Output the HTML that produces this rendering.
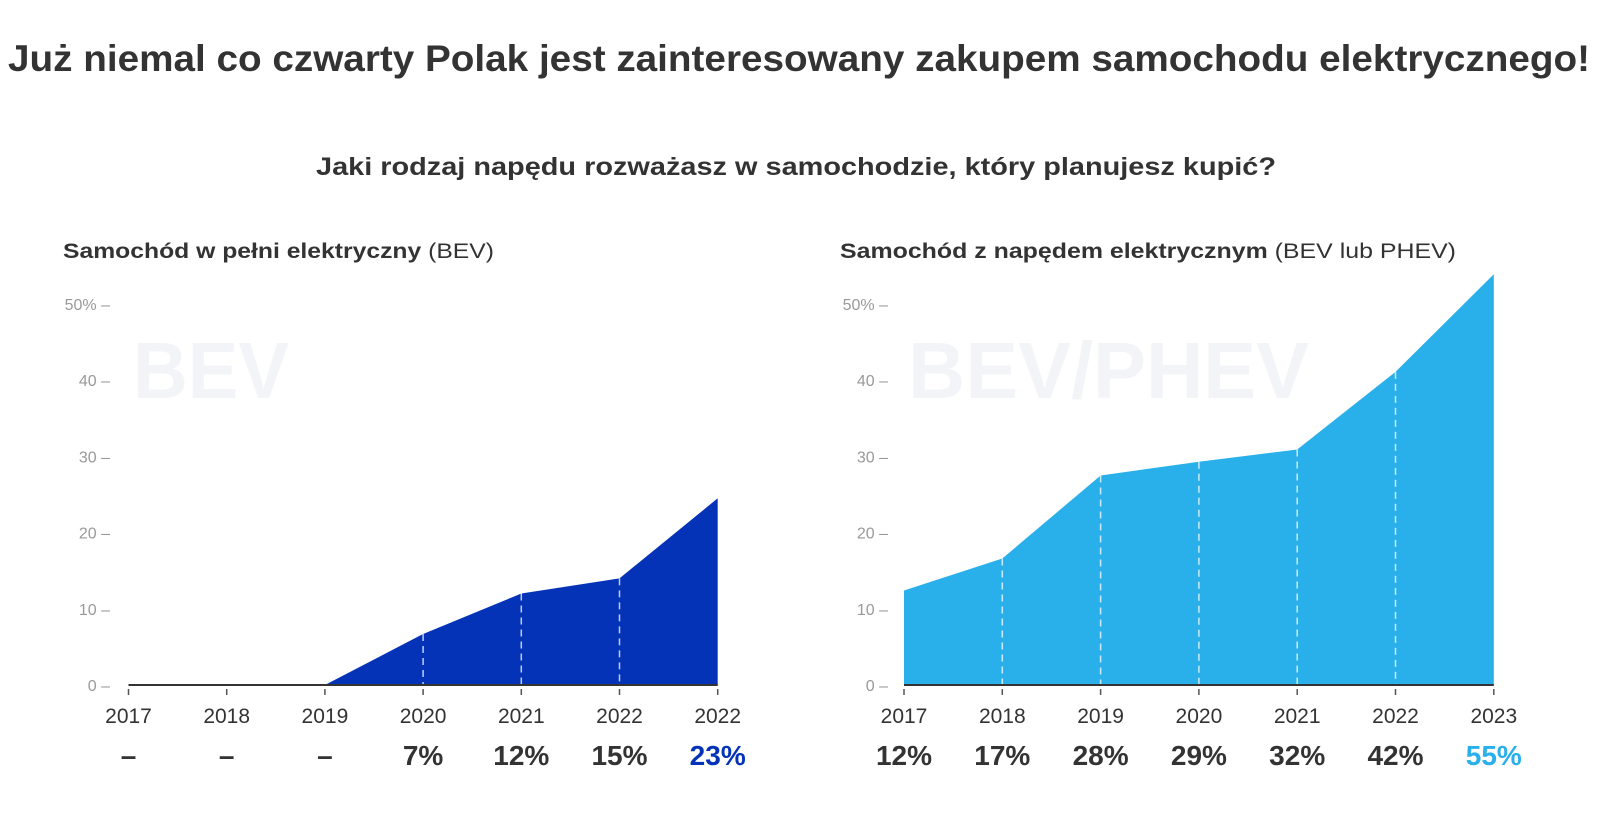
<!DOCTYPE html>
<html><head><meta charset="utf-8"><style>
html,body{margin:0;padding:0;background:#fff;}
svg{display:block;font-family:"Liberation Sans",sans-serif;}
</style></head><body>
<svg id="c" width="1600" height="821" viewBox="0 0 1600 821">
<text x="8" y="71" font-size="37" font-weight="bold" fill="#333" textLength="1582" lengthAdjust="spacingAndGlyphs">Już niemal co czwarty Polak jest zainteresowany zakupem samochodu elektrycznego!</text>
<text x="316" y="175" font-size="25" font-weight="bold" fill="#333" textLength="960" lengthAdjust="spacingAndGlyphs">Jaki rodzaj napędu rozważasz w samochodzie, który planujesz kupić?</text>
<text x="63" y="258" font-size="21" fill="#333" textLength="431" lengthAdjust="spacingAndGlyphs"><tspan font-weight="bold">Samochód w pełni elektryczny</tspan> (BEV)</text>
<text x="840" y="258" font-size="21" fill="#333" textLength="616" lengthAdjust="spacingAndGlyphs"><tspan font-weight="bold">Samochód z napędem elektrycznym</tspan> (BEV lub PHEV)</text>
<text x="133" y="398" font-size="80" font-weight="bold" fill="#f3f4f8" textLength="156" lengthAdjust="spacingAndGlyphs">BEV</text>
<text x="908" y="398" font-size="80" font-weight="bold" fill="#f3f4f8" textLength="401" lengthAdjust="spacingAndGlyphs">BEV/PHEV</text>
<g id="left"></g>
<g id="right"></g>
</svg>
<script>
const leftYears = ['2017','2018','2019','2020','2021','2022','2022'];
const leftValues = [0, 0, 0, 6.7, 12, 14, 24.5];
const leftLabels = ['–','–','–','7%','12%','15%','23%'];
const rightYears = ['2017','2018','2019','2020','2021','2022','2023'];
const rightValues = [12.4, 16.6, 27.5, 29.3, 30.9, 41.1, 53.9];
const rightLabels = ['12%','17%','28%','29%','32%','42%','55%'];
const yTicks = [0, 10, 20, 30, 40, 50];
const yTickLabels = ['0','10','20','30','40','50%'];

const NS = 'http://www.w3.org/2000/svg';
function mk(parent, tag, attrs, text) {
  const e = document.createElementNS(NS, tag);
  for (const k in attrs) e.setAttribute(k, attrs[k]);
  if (text !== undefined) e.textContent = text;
  parent.appendChild(e);
  return e;
}
const y0 = 685, yPer10 = 76.2;
function yScale(v) { return y0 - v / 10 * yPer10; }

function drawChart(g, x0, step, years, values, labels, color, axisRight) {
  const xScale = i => x0 + i * step;
  yTicks.forEach((t, i) => {
    const tl = mk(g, 'text', {x: axisRight, y: yScale(t) + 6, 'font-size': 16, fill: '#999', 'text-anchor': 'end'}, yTickLabels[i] + ' –');
    
    
  });
  let d = 'M' + xScale(0) + ',' + y0;
  values.forEach((v, i) => { d += ' L' + xScale(i) + ',' + yScale(v); });
  d += ' L' + xScale(values.length - 1) + ',' + y0 + ' Z';
  const area = mk(g, 'path', {d: d, fill: color});
  
  
  values.forEach((v, i) => {
    if (i === 0 || i === values.length - 1 || v <= 0) return;
    const ln = mk(g, 'line', {x1: xScale(i), x2: xScale(i), y1: yScale(v), y2: y0, stroke: 'rgba(255,255,255,0.75)', 'stroke-width': 1.5, 'stroke-dasharray': '7,5'});
    
    
  });
  const bl = mk(g, 'line', {x1: xScale(0), x2: xScale(values.length - 1), y1: y0, y2: y0, stroke: '#333', 'stroke-width': 2});
  
  
  years.forEach((yr, i) => {
    const tk = mk(g, 'line', {x1: xScale(i), x2: xScale(i), y1: y0 + 4, y2: y0 + 10, stroke: '#555', 'stroke-width': 1.5});
    
    
    const yl = mk(g, 'text', {x: xScale(i), y: y0 + 38, 'font-size': 21, fill: '#333', 'text-anchor': 'middle'}, yr);
    
    
    const last = i === years.length - 1;
    const vl = mk(g, 'text', {x: xScale(i), y: y0 + 80, 'font-size': 28, 'font-weight': 'bold', fill: last ? color : '#333', 'text-anchor': 'middle'}, labels[i]);
    
    
  });
}
drawChart(document.getElementById('left'), 128.5, 98.2, leftYears, leftValues, leftLabels, '#0433b8', 110);
drawChart(document.getElementById('right'), 904, 98.3, rightYears, rightValues, rightLabels, '#29b0ea', 888);
</script>
</body></html>
